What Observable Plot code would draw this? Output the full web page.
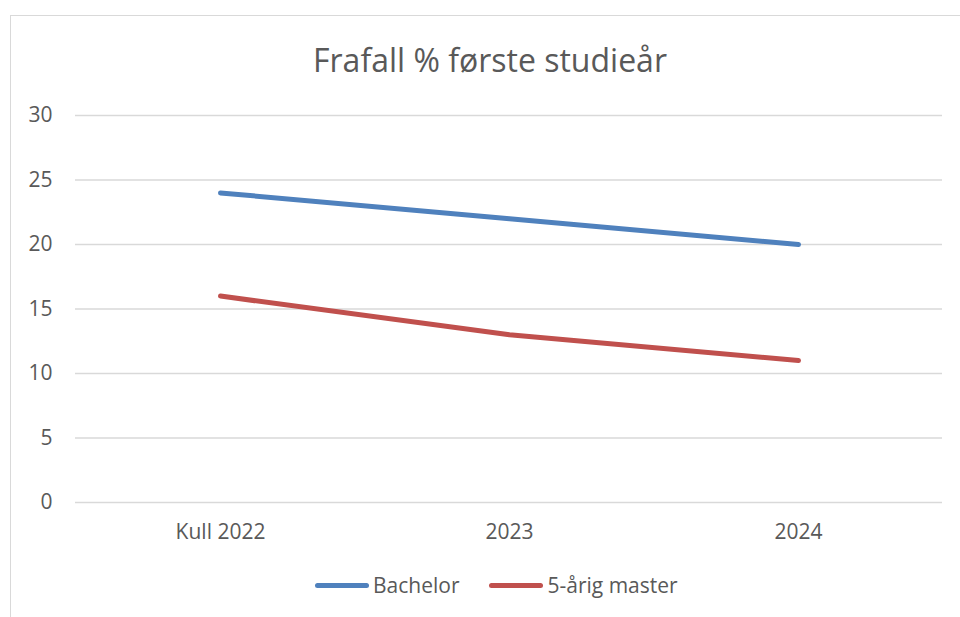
<!DOCTYPE html>
<html>
<head>
<meta charset="utf-8">
<script src="https://cdn.jsdelivr.net/npm/d3@7"></script>
<script src="https://cdn.jsdelivr.net/npm/@observablehq/plot@0.6"></script>
<style>
  html, body { margin: 0; padding: 0; background: #fff; }
  body { width: 960px; height: 617px; overflow: hidden; position: relative;
         font-family: "Open Sans", sans-serif; color: #595959; }
  #frame { position: absolute; left: 10px; top: 15px; width: 960px; height: 640px;
           border: 1.5px solid #d9d9d9; box-sizing: border-box; }
  #title { position: relative; height: 90px; width: 980px; text-align: center;
           font-size: 32px; line-height: 1; padding-top: 44px; box-sizing: border-box; color: #595959; }
  #chart { position: relative; height: 470px; }
  #legend { position: absolute; top: 571px; left: 315px; display: flex; align-items: center;
            font-size: 21px; color: #595959; white-space: nowrap; }
  .sw { display: inline-block; width: 54px; height: 5px; border-radius: 3px; margin-right: 4px; }
  .item { display: flex; align-items: center; margin-right: 30px; }
</style>
</head>
<body>
<div id="frame"></div>
<div id="title">Frafall % første studieår</div>
<div id="chart"></div>
<div id="legend"></div>
<script>
const categories = ["Kull 2022", "2023", "2024"];
const seriesNames = ["Bachelor", "5-årig master"];
const bachelor = [24, 22, 20];
const master = [16, 13, 11];
const yTicks = [0, 5, 10, 15, 20, 25, 30];
const colors = ["#4f81bd", "#c0504d"];

const data = [];
categories.forEach((c, i) => {
  data.push({cat: c, series: seriesNames[0], value: bachelor[i]});
  data.push({cat: c, series: seriesNames[1], value: master[i]});
});

const chart = Plot.plot({
  width: 960,
  height: 470,
  marginLeft: 75,
  marginRight: 18,
  marginTop: 25,
  marginBottom: 58,
  style: {fontFamily: '"Open Sans", sans-serif', fontSize: "21px", color: "#595959", background: "transparent"},
  x: {type: "point", domain: categories, padding: 0.5},
  y: {domain: [0, 30]},
  color: {domain: seriesNames, range: colors},
  marks: [
    Plot.gridY(yTicks, {stroke: "#d9d9d9", strokeOpacity: 1, strokeWidth: 1.5}),
    Plot.axisY(yTicks, {tickSize: 0, tickPadding: 23, label: null, fill: "#595959"}),
    Plot.axisX({tickSize: 0, tickPadding: 22, label: null, fill: "#595959"}),
    Plot.line(data, {x: "cat", y: "value", z: "series", stroke: "series", strokeWidth: 5, strokeLinecap: "round", strokeLinejoin: "round"})
  ]
});
document.getElementById("chart").appendChild(chart);

const legend = document.getElementById("legend");
seriesNames.forEach((name, i) => {
  const item = document.createElement("div");
  item.className = "item";
  const sw = document.createElement("span");
  sw.className = "sw";
  sw.style.background = colors[i];
  item.appendChild(sw);
  const t = document.createElement("span");
  t.textContent = name;
  item.appendChild(t);
  legend.appendChild(item);
});
</script>
</body>
</html>
